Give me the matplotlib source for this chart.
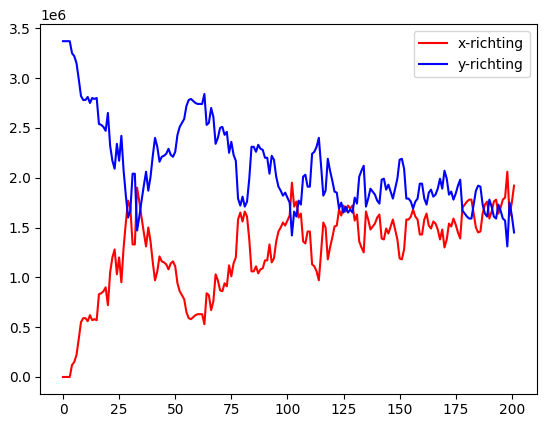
import matplotlib
matplotlib.use('Agg')
import matplotlib.pyplot as plt
import numpy as np

# values (units of 1e6)
x_richting = [
    0, 0, 0, 0, 0.12, 0.15, 0.22, 0.38, 0.55, 0.59,
    0.59, 0.56, 0.62, 0.57, 0.58, 0.57, 0.83, 0.84, 0.86, 0.90,
    0.72, 1.05, 1.20, 1.28, 1.03, 1.20, 0.95, 1.30, 1.55, 1.77,
    1.70, 1.33, 1.33, 1.90, 1.76, 1.60, 1.45, 1.31, 1.50, 1.36,
    1.15, 0.97, 1.06, 1.21, 1.16, 1.15, 1.13, 1.08, 1.14, 1.16,
    1.11, 0.94, 0.86, 0.82, 0.78, 0.65, 0.59, 0.58, 0.60, 0.62,
    0.63, 0.63, 0.63, 0.53, 0.84, 0.82, 0.67, 0.76, 1.03, 0.97,
    0.87, 0.86, 0.94, 0.91, 1.12, 1.01, 1.14, 1.20, 1.58, 1.65,
    1.56, 1.66, 1.61, 1.38, 1.06, 1.06, 1.11, 1.04, 1.08, 1.09,
    1.17, 1.17, 1.33, 1.15, 1.19, 1.36, 1.46, 1.50, 1.55, 1.52,
    1.57, 1.62, 1.95, 1.71, 1.76, 1.60, 1.64, 1.36, 1.34, 1.46,
    1.46, 1.13, 1.11, 1.06, 0.97, 1.25, 1.55, 1.50, 1.18, 1.30,
    1.40, 1.51, 1.52, 1.68, 1.62, 1.72, 1.66, 1.72, 1.69, 1.72,
    1.57, 1.63, 1.36, 1.30, 1.25, 1.66, 1.58, 1.48, 1.51, 1.54,
    1.60, 1.63, 1.39, 1.38, 1.49, 1.44, 1.51, 1.58, 1.48, 1.38,
    1.19, 1.18, 1.28, 1.58, 1.58, 1.61, 1.68, 1.61, 1.58, 1.43,
    1.43, 1.58, 1.64, 1.52, 1.49, 1.56, 1.54, 1.48, 1.38, 1.48,
    1.30, 1.38, 1.54, 1.51, 1.59, 1.53, 1.45, 1.39, 1.70, 1.73,
    1.76, 1.78, 1.78, 1.64, 1.50, 1.45, 1.46, 1.64, 1.73, 1.76,
    1.59, 1.66, 1.76, 1.78, 1.64, 1.70, 1.78, 1.80, 2.06, 1.62,
    1.75, 1.92,
]

y_richting = [
    3.37, 3.37, 3.37, 3.37, 3.25, 3.22, 3.15, 2.99, 2.82, 2.78,
    2.78, 2.81, 2.75, 2.80, 2.79, 2.80, 2.54, 2.53, 2.51, 2.47,
    2.65, 2.32, 2.17, 2.09, 2.34, 2.17, 2.42, 2.07, 1.82, 1.60,
    1.67, 2.04, 2.04, 1.47, 1.61, 1.77, 1.92, 2.06, 1.87, 2.01,
    2.22, 2.40, 2.31, 2.16, 2.21, 2.22, 2.24, 2.29, 2.23, 2.21,
    2.26, 2.43, 2.51, 2.55, 2.59, 2.72, 2.78, 2.79, 2.77, 2.75,
    2.74, 2.74, 2.74, 2.84, 2.53, 2.55, 2.70, 2.61, 2.34, 2.40,
    2.50, 2.51, 2.43, 2.46, 2.25, 2.36, 2.23, 2.17, 1.79, 1.72,
    1.81, 1.71, 1.76, 1.99, 2.31, 2.31, 2.26, 2.33, 2.29, 2.28,
    2.20, 2.20, 2.04, 2.22, 2.18, 2.01, 1.91, 1.87, 1.82, 1.85,
    1.80, 1.75, 1.42, 1.66, 1.61, 1.77, 1.73, 2.01, 2.03, 1.91,
    1.91, 2.24, 2.26, 2.31, 2.40, 2.12, 1.82, 1.87, 2.19, 2.07,
    1.97, 1.86, 1.85, 1.69, 1.75, 1.65, 1.71, 1.65, 1.68, 1.65,
    1.80, 1.74, 2.01, 2.07, 2.12, 1.71, 1.79, 1.89, 1.86, 1.83,
    1.77, 1.74, 1.98, 1.99, 1.88, 1.93, 1.86, 1.79, 1.89, 1.99,
    2.18, 2.19, 2.09, 1.79, 1.79, 1.76, 1.69, 1.76, 1.79, 1.94,
    1.94, 1.79, 1.73, 1.85, 1.88, 1.81, 1.83, 1.89, 1.99, 1.89,
    2.07, 1.99, 1.83, 1.86, 1.78, 1.84, 1.92, 1.98, 1.67, 1.64,
    1.61, 1.59, 1.59, 1.73, 1.87, 1.92, 1.91, 1.73, 1.64, 1.61,
    1.78, 1.71, 1.61, 1.59, 1.73, 1.67, 1.59, 1.57, 1.31, 1.75,
    1.62, 1.45,
]


def main():
    t = np.arange(len(x_richting))
    fig = plt.figure(figsize=(5.47, 4.28), dpi=100)
    ax = fig.add_axes([0.074, 0.080, 0.907, 0.863])

    ax.plot(t, np.array(x_richting) * 1e6, color='red', label='x-richting')
    ax.plot(t, np.array(y_richting) * 1e6, color='blue', label='y-richting')

    ax.legend(loc='upper right')
    fig.savefig('out.png', dpi=100)


if __name__ == '__main__':
    main()
